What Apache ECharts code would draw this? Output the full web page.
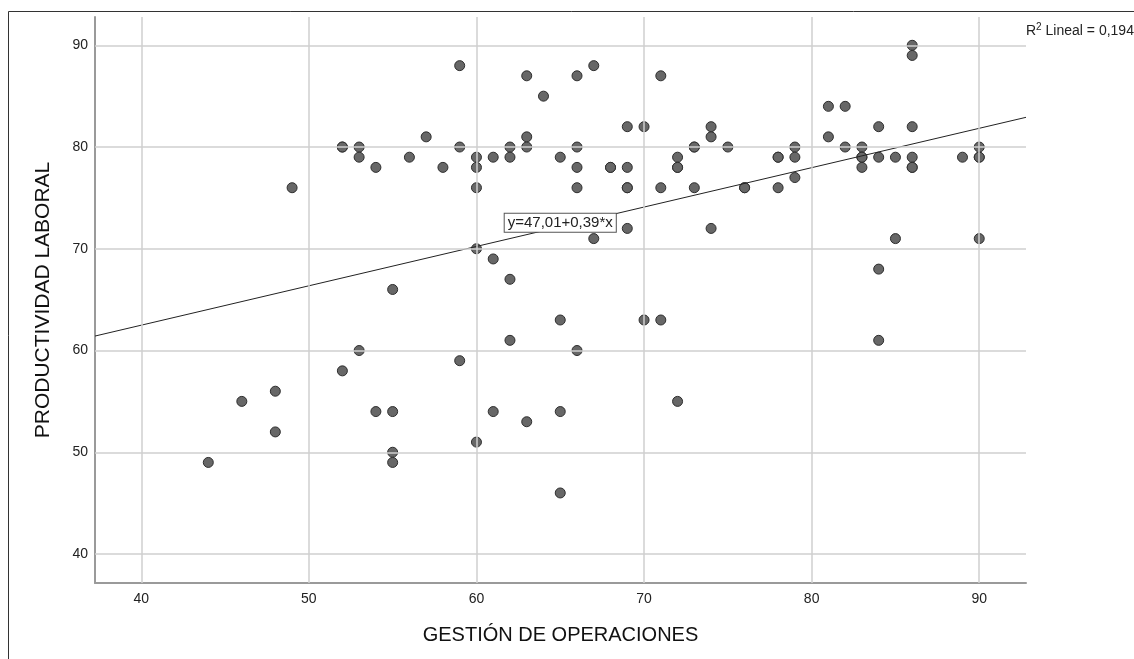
<!DOCTYPE html>
<html>
<head>
<meta charset="utf-8">
<script src="https://cdn.jsdelivr.net/npm/echarts@6/dist/echarts.min.js"></script>
<style>
html,body{margin:0;padding:0;background:#fff;}
#chart{width:1134px;height:659px;}
</style>
</head>
<body>
<div id="chart"></div>
<script>
// ---- Data ----
var gestionOperaciones = [
  44,46,48,48,49,52,52,52,53,53,53,54,54,55,55,55,55,56,57,58,
  59,59,59,60,60,60,60,60,61,61,61,62,62,62,62,63,63,63,63,64,
  65,65,65,65,66,66,66,66,66,67,67,68,68,69,69,69,69,69,70,70,
  71,71,71,72,72,72,72,73,73,73,74,74,74,75,76,76,78,78,78,79,
  79,79,81,81,82,82,83,83,83,83,84,84,84,84,85,85,86,86,86,86,
  86,86,89,90,90,90,90
];
var productividadLaboral = [
  49,55,56,52,76,80,80,58,80,79,60,78,54,66,54,50,49,79,81,78,
  88,80,59,79,78,76,70,51,79,69,54,80,79,67,61,87,81,80,53,85,
  79,63,54,46,87,80,78,76,60,88,71,78,78,82,78,76,76,72,82,63,
  87,76,63,79,78,78,55,80,80,76,82,81,72,80,76,76,79,79,76,80,
  79,77,84,81,84,80,80,79,79,78,82,79,68,61,79,71,90,89,82,79,
  78,78,79,80,79,79,71
];
var xTicks = [40, 50, 60, 70, 80, 90];
var yTicks = [40, 50, 60, 70, 80, 90];
var xRange = [37.24, 92.79];
var yRange = [37.15, 92.78];
var fitIntercept = 47.01;
var fitSlope = 0.387;
var fitLabel = 'y=47,01+0,39*x';
var fitLabelAt = 65;
var xTitle = 'GESTIÓN DE OPERACIONES';
var yTitle = 'PRODUCTIVIDAD LABORAL';

// ---- Build ----
var points = gestionOperaciones.map(function (x, i) { return [x, productividadLaboral[i]]; });
function fit(x) { return fitIntercept + fitSlope * x; }
var fitLine = [[xRange[0], fit(xRange[0])], [xRange[1], fit(xRange[1])]];

var FONT = '"Liberation Sans", Arial, sans-serif';
var gridColor = '#cfcfcf';
var axisColor = '#9a9a9a';

var gridLines = xTicks.map(function (v) { return { xAxis: v }; })
  .concat(yTicks.map(function (v) { return { yAxis: v }; }));

var chart = echarts.init(document.getElementById('chart'), null, { renderer: 'canvas' });
chart.setOption({
  animation: false,
  backgroundColor: '#ffffff',
  grid: { left: 95, right: 108, top: 17, bottom: 76, containLabel: false },
  xAxis: {
    type: 'value',
    min: xRange[0], max: xRange[1],
    name: xTitle,
    nameLocation: 'middle',
    nameGap: 42,
    nameTextStyle: { fontFamily: FONT, fontSize: 20, color: '#111' },
    axisLine: { show: true, lineStyle: { color: axisColor, width: 2 } },
    axisTick: { show: false },
    splitLine: { show: false },
    axisLabel: { customValues: xTicks, fontFamily: FONT, fontSize: 14, color: '#222', margin: 9 }
  },
  yAxis: {
    type: 'value',
    min: yRange[0], max: yRange[1],
    name: yTitle,
    nameLocation: 'middle',
    nameGap: 41,
    nameRotate: 90,
    nameTextStyle: { fontFamily: FONT, fontSize: 21, color: '#111' },
    axisLine: { show: true, onZero: false, lineStyle: { color: axisColor, width: 2 } },
    axisTick: { show: false },
    splitLine: { show: false },
    axisLabel: { customValues: yTicks, fontFamily: FONT, fontSize: 14, color: '#222', margin: 7 }
  },
  series: [
    {
      type: 'line',
      data: [],
      silent: true,
      z: 1,
      markLine: {
        silent: true,
        symbol: ['none', 'none'],
        label: { show: false },
        lineStyle: { color: gridColor, width: 1.5, type: 'solid' },
        data: gridLines,
        animation: false
      }
    },
    {
      type: 'scatter',
      data: points,
      symbol: 'circle',
      symbolSize: 10,
      itemStyle: { color: '#676767', borderColor: '#2e2e2e', borderWidth: 1, opacity: 1 },
      z: 3
    },
    {
      type: 'line',
      data: fitLine,
      showSymbol: false,
      symbol: 'none',
      lineStyle: { color: '#222', width: 1 },
      z: 4,
      markPoint: {
        symbol: 'rect',
        symbolSize: 0,
        data: [{ coord: [fitLabelAt, fit(fitLabelAt)] }],
        label: {
          show: true,
          formatter: fitLabel,
          position: 'inside',
          offset: [0, -4],
          fontFamily: FONT,
          fontSize: 15,
          color: '#222',
          backgroundColor: '#ffffff',
          borderColor: '#555',
          borderWidth: 1,
          padding: [2, 3, 1, 3]
        },
        z: 6
      }
    }
  ],
  graphic: [
    {
      type: 'rect',
      shape: { x: 8.5, y: 11.5, width: 1400, height: 900 },
      style: { fill: null, stroke: '#333', lineWidth: 1 },
      silent: true,
      z: 10
    },
    {
      type: 'text',
      left: 1026,
      top: 22,
      style: {
        text: '{r|R}{s|2}{r| Lineal = 0,194}',
        rich: {
          r: { fontFamily: FONT, fontSize: 14, fill: '#222', verticalAlign: 'bottom' },
          s: { fontFamily: FONT, fontSize: 10, fill: '#222', verticalAlign: 'top', padding: [0, 0, 6, 0] }
        }
      },
      z: 10
    }
  ]
});
</script>
</body>
</html>
